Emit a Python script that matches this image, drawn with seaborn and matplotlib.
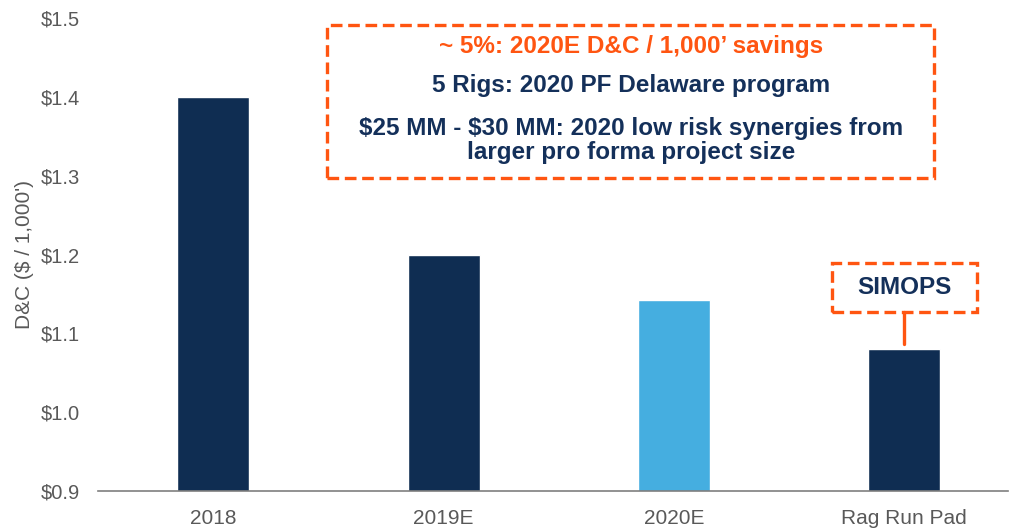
import matplotlib
matplotlib.use("Agg")
import matplotlib.pyplot as plt
from matplotlib.patches import Rectangle
import pandas as pd
import seaborn as sns

# Chart data
categories = ['2018', '2019E', '2020E', 'Rag Run Pad']
dc_cost = [1.40, 1.20, 1.142, 1.08]
bar_colors = ['#0F2D52', '#0F2D52', '#45AEE0', '#0F2D52']
y_ticks = [0.9, 1.0, 1.1, 1.2, 1.3, 1.4, 1.5]

NAVY = '#14305A'
ORANGE = '#FF5511'
GRAY = '#595959'

df = pd.DataFrame({'Category': categories, 'DC': dc_cost})

sns.set_theme(style='white')
plt.rcParams['font.family'] = ['Liberation Sans', 'DejaVu Sans']

fig = plt.figure(figsize=(10.11, 5.29), dpi=100)
ax = fig.add_axes([98 / 1011, 38 / 529, 910 / 1011, 473 / 529])

sns.barplot(data=df, x='Category', y='DC', hue='Category', palette=bar_colors,
            legend=False, width=0.313, saturation=1, ax=ax)

ax.set_ylim(0.9, 1.5)
ax.set_xlim(-0.5, 3.45)
ax.set_yticks(y_ticks)
ax.set_yticklabels([f'\\${v:.1f}' for v in y_ticks])
ax.tick_params(axis='y', length=0, pad=13, labelsize=14.5, labelcolor=GRAY)
ax.tick_params(axis='x', length=0, pad=13, labelsize=15, labelcolor=GRAY)
ax.set_xlabel('')
ax.set_ylabel("D&C (\\$ / 1,000')", fontsize=15, color=GRAY, labelpad=5)

for side in ['top', 'right', 'left']:
    ax.spines[side].set_visible(False)
ax.spines['bottom'].set_color('#7F7F7F')
ax.spines['bottom'].set_linewidth(1.2)

# Dashed callout boxes
dash_style = dict(fill=False, edgecolor=ORANGE, linewidth=2.4,
                  linestyle=(0, (3.5, 1.7)), clip_on=False, zorder=5)
ax.add_patch(Rectangle((0.496, 1.297), 3.13 - 0.496, 1.491 - 1.297, **dash_style))

box_x = 0.5 * (0.496 + 3.13)
ax.text(box_x, 1.4635, "~ 5%: 2020E D&C / 1,000\u2019 savings", color=ORANGE,
        fontsize=17.5, fontweight='bold', ha='center', va='center')
ax.text(box_x, 1.414, "5 Rigs: 2020 PF Delaware program", color=NAVY,
        fontsize=17.5, fontweight='bold', ha='center', va='center')
ax.text(box_x, 1.3445, "\\$25 MM - \\$30 MM: 2020 low risk synergies from\nlarger pro forma project size",
        color=NAVY, fontsize=17.5, fontweight='bold', ha='center', va='center',
        linespacing=1.05)

# SIMOPS callout over the last bar
simops_x = 3
ax.add_patch(Rectangle((simops_x - 0.315, 1.127), 0.63, 1.189 - 1.127, **dash_style))
ax.text(simops_x, 1.158, 'SIMOPS', color=NAVY, fontsize=17.5, fontweight='bold',
        ha='center', va='center')
ax.plot([simops_x, simops_x], [dc_cost[3] + 0.006, 1.127], color=ORANGE,
        linewidth=2.4, zorder=4)

fig.savefig('out.png', dpi=100)
